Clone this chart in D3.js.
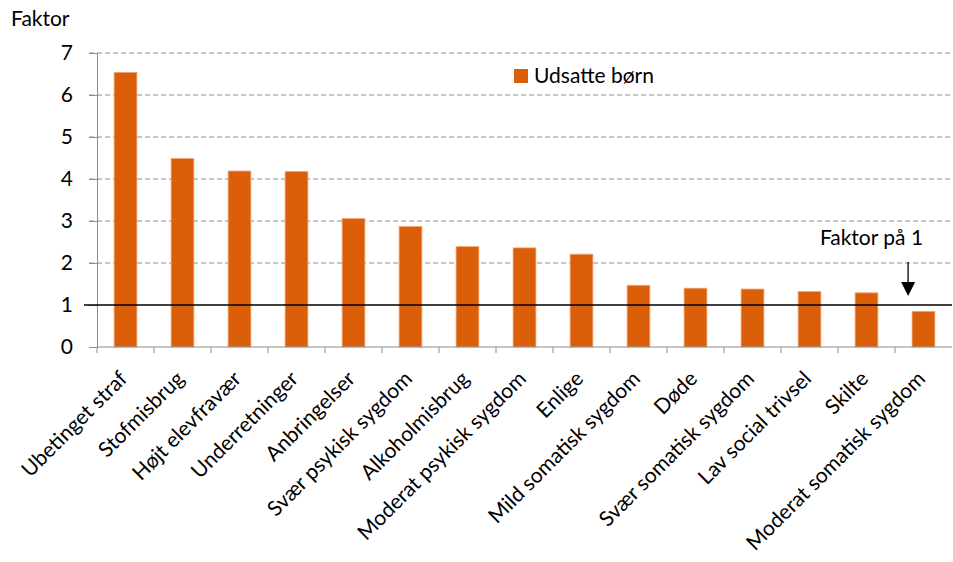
<!DOCTYPE html>
<html lang="da">
<head>
<meta charset="utf-8" />
<title>Udsatte børn</title>
<script src="https://cdn.jsdelivr.net/npm/d3@7"></script>
<style>
  body { margin: 0; background: #fff; font-family: Lato, "Open Sans", sans-serif; }
  .grid line { stroke: #8c8c8c; stroke-dasharray: 5,3; }
  text { fill: #000; }
</style>
</head>
<body>
<div id="chart"></div>
<script>
var categories = ["Ubetinget straf", "Stofmisbrug", "Højt elevfravær", "Underretninger", "Anbringelser",
  "Svær psykisk sygdom", "Alkoholmisbrug", "Moderat psykisk sygdom", "Enlige", "Mild somatisk sygdom",
  "Døde", "Svær somatisk sygdom", "Lav social trivsel", "Skilte", "Moderat somatisk sygdom"];
var values = [6.54, 4.49, 4.19, 4.18, 3.06, 2.87, 2.39, 2.36, 2.21, 1.47, 1.40, 1.38, 1.32, 1.29, 0.85];
var yTicks = [0, 1, 2, 3, 4, 5, 6, 7];
var seriesName = "Udsatte børn";
var refValue = 1;
var refLabel = "Faktor på 1";

var width = 953, height = 562;
var margin = {top: 53, right: 1, bottom: 215, left: 97};
var fontSize = "21px";

var svg = d3.select("#chart").append("svg")
    .attr("width", width)
    .attr("height", height);

var x = d3.scaleBand()
    .domain(categories)
    .range([margin.left, width - margin.right])
    .paddingInner(0.6)
    .paddingOuter(0.3);

var y = d3.scaleLinear()
    .domain([0, 7])
    .range([height - margin.bottom, margin.top]);

// dashed grid
svg.append("g")
    .attr("class", "grid")
    .selectAll("line")
    .data(yTicks.filter(function(d) { return d > 0 && d !== refValue; }))
    .enter().append("line")
    .attr("x1", margin.left - 8)
    .attr("x2", width - margin.right)
    .attr("y1", function(d) { return y(d); })
    .attr("y2", function(d) { return y(d); });

// y axis
var yAxis = svg.append("g")
    .attr("transform", "translate(" + margin.left + ",0)")
    .call(d3.axisLeft(y).tickValues(yTicks).tickFormat(d3.format("d")).tickSize(8).tickPadding(16));
yAxis.select(".domain").attr("stroke", "#8c8c8c");
yAxis.selectAll(".tick line").attr("stroke", "#8c8c8c");
yAxis.selectAll(".tick text").style("font-size", fontSize).style("font-family", "Lato, sans-serif");

// bars
svg.append("g")
    .selectAll("rect")
    .data(values)
    .enter().append("rect")
    .attr("x", function(d, i) { return x(categories[i]); })
    .attr("y", function(d) { return y(d); })
    .attr("width", x.bandwidth())
    .attr("height", function(d) { return y(0) - y(d); })
    .attr("fill", "#db5f08")
    .attr("stroke", "#f2a779")
    .attr("stroke-width", 0.8);

// x axis with ticks between categories
var xAxisG = svg.append("g")
    .attr("transform", "translate(0," + y(0) + ")");
xAxisG.append("line")
    .attr("x1", margin.left)
    .attr("x2", width - margin.right)
    .attr("stroke", "#8c8c8c");
var step = x.step();
xAxisG.selectAll(".sep")
    .data(categories)
    .enter().append("line")
    .attr("class", "sep")
    .attr("x1", function(d) { return x(d) - x.bandwidth() * 0.75; })
    .attr("x2", function(d) { return x(d) - x.bandwidth() * 0.75; })
    .attr("y1", 0)
    .attr("y2", 6)
    .attr("stroke", "#8c8c8c");

xAxisG.selectAll(".lbl")
    .data(categories)
    .enter().append("text")
    .attr("class", "lbl")
    .attr("text-anchor", "end")
    .attr("transform", function(d) {
      return "translate(" + (x(d) + x.bandwidth() / 2 + 3) + ",33) rotate(-45)";
    })
    .style("font-size", fontSize)
    .text(function(d) { return d; });

// reference line at 1
svg.append("line")
    .attr("x1", margin.left - 13)
    .attr("x2", width - margin.right)
    .attr("y1", y(refValue))
    .attr("y2", y(refValue))
    .attr("stroke", "#000")
    .attr("stroke-width", 1.3);

// y title
svg.append("text")
    .attr("x", 11)
    .attr("y", 26)
    .style("font-size", fontSize)
    .text("Faktor");

// legend
var lg = svg.append("g").attr("transform", "translate(514,69)");
lg.append("rect").attr("width", 14).attr("height", 14).attr("fill", "#db5f08");
lg.append("text").attr("x", 20).attr("y", 14).style("font-size", fontSize).text(seriesName);

// annotation: arrow sits in the gap before the last bar
var last = categories[categories.length - 1];
var ax = x(last) - 4;
svg.append("text")
    .attr("x", ax + 15)
    .attr("y", 245)
    .attr("text-anchor", "end")
    .style("font-size", fontSize)
    .text(refLabel);
svg.append("line")
    .attr("x1", ax).attr("x2", ax)
    .attr("y1", 262).attr("y2", 284)
    .attr("stroke", "#000").attr("stroke-width", 1.3);
svg.append("path")
    .attr("d", "M" + (ax - 7) + ",282L" + (ax + 7) + ",282L" + ax + ",296Z")
    .attr("fill", "#000");
</script>
</body>
</html>
